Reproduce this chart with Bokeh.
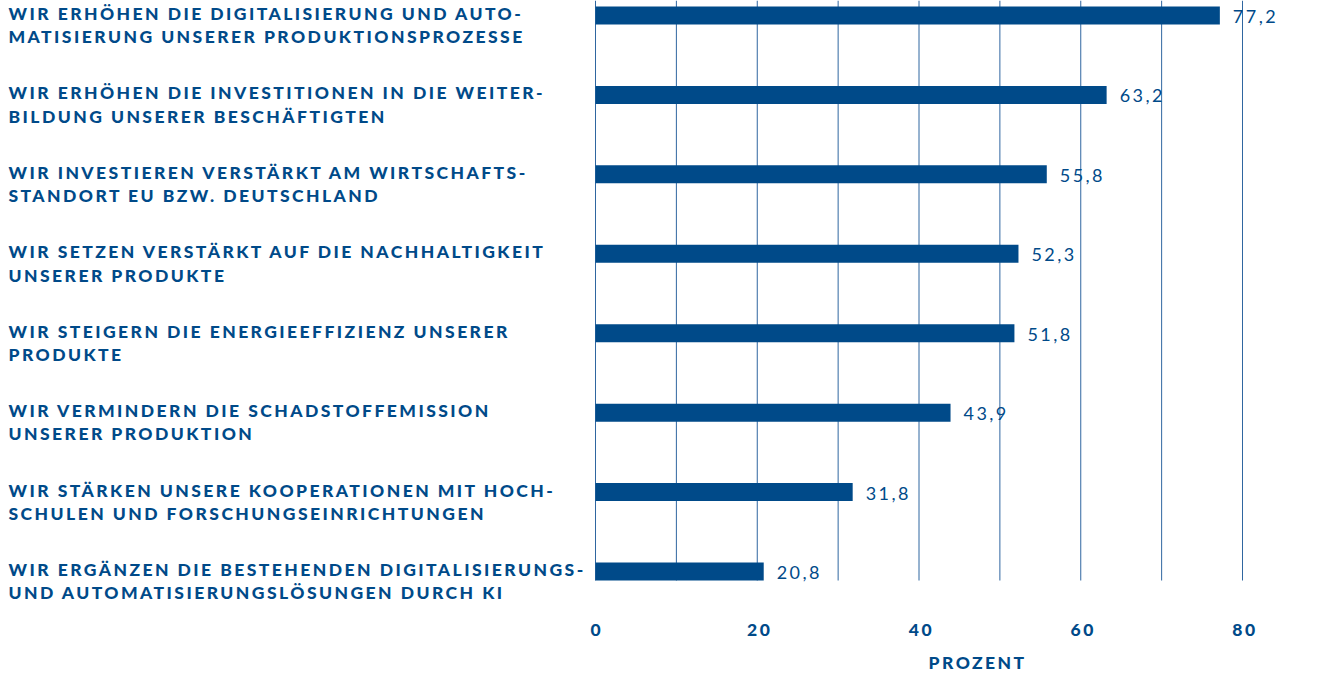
from bokeh.plotting import figure
from bokeh.models import ColumnDataSource, Range1d, InlineStyleSheet
from bokeh.core.properties import value
from bokeh.embed import file_html
from bokeh.resources import INLINE

# ---- data ----
categories = [
    "WIR ERHÖHEN DIE DIGITALISIERUNG UND AUTO-\nMATISIERUNG UNSERER PRODUKTIONSPROZESSE",
    "WIR ERHÖHEN DIE INVESTITIONEN IN DIE WEITER-\nBILDUNG UNSERER BESCHÄFTIGTEN",
    "WIR INVESTIEREN VERSTÄRKT AM WIRTSCHAFTS-\nSTANDORT EU BZW. DEUTSCHLAND",
    "WIR SETZEN VERSTÄRKT AUF DIE NACHHALTIGKEIT\nUNSERER PRODUKTE",
    "WIR STEIGERN DIE ENERGIEEFFIZIENZ UNSERER\nPRODUKTE",
    "WIR VERMINDERN DIE SCHADSTOFFEMISSION\nUNSERER PRODUKTION",
    "WIR STÄRKEN UNSERE KOOPERATIONEN MIT HOCH-\nSCHULEN UND FORSCHUNGSEINRICHTUNGEN",
    "WIR ERGÄNZEN DIE BESTEHENDEN DIGITALISIERUNGS-\nUND AUTOMATISIERUNGSLÖSUNGEN DURCH KI",
]
values = [77.2, 63.2, 55.8, 52.3, 51.8, 43.9, 31.8, 20.8]
tick_values = [0, 20, 40, 60, 80]
grid_values = [0, 10, 20, 30, 40, 50, 60, 70, 80, 90]
axis_title = "PROZENT"

BLUE = "#004a89"
GRID = "#2f66a0"
HEAVY = "Lato Black"
LIGHT = "Lato"

W, H = 1309, 672
PX_PER_UNIT = 8.0875          # horizontal scale (px per percent)
ROW_PX = 79.43                # vertical distance between bars (px)
ZERO_PX = 595                 # left edge -> value 0
FIRST_ROW_PX = 15             # top edge -> first bar centre
GRID_END_PX = 580             # top edge -> end of the vertical grid lines
TICK_LABEL_PX = 629
TITLE_PX = 662

n = len(values)


def y_at(px):
    return (px - FIRST_ROW_PX) / ROW_PX


x_start = -ZERO_PX / PX_PER_UNIT
x_end = (W - ZERO_PX) / PX_PER_UNIT
y_top = y_at(0)
y_bottom = y_at(H)

src = ColumnDataSource(dict(
    y=list(range(n)),
    value=values,
    cat=categories,
    lab=[f"{v:.1f}".replace(".", ",") for v in values],
    x0=[x_start] * n,
))
grid_src = ColumnDataSource(dict(
    x=grid_values,
    y0=[y_top] * len(grid_values),
    y1=[y_at(GRID_END_PX)] * len(grid_values),
))
tick_src = ColumnDataSource(dict(
    x=tick_values,
    y=[y_at(TICK_LABEL_PX)] * len(tick_values),
    t=[str(t) for t in tick_values],
))

p = figure(width=W, height=H, output_backend="svg", toolbar_location=None,
           x_range=Range1d(x_start, x_end), y_range=Range1d(y_bottom, y_top),
           x_axis_location=None, y_axis_location=None,
           min_border_left=0, min_border_right=0, min_border_top=0, min_border_bottom=0,
           outline_line_color=None)
p.grid.visible = False

p.stylesheets = [InlineStyleSheet(css=":host { letter-spacing: 2.45px; }")]

# vertical grid lines
p.segment(x0="x", x1="x", y0="y0", y1="y1", source=grid_src,
          line_color=GRID, line_width=1)

# bars
p.hbar(y="y", left=0, right="value", height=18 / ROW_PX, source=src,
       fill_color=BLUE, line_color=None)

# value labels
p.text(x="value", y="y", text="lab", source=src, x_offset=13, y_offset=1,
       text_font=value(LIGHT), text_font_size="18px", text_color=BLUE,
       text_baseline="middle", text_align="left")

# category labels
p.text(x="x0", y="y", text="cat", source=src, x_offset=8, y_offset=-12.5,
       text_font=value(HEAVY), text_font_size="17.5px",
       text_color=BLUE, text_baseline="top", text_align="left",
       text_line_height=1.11)

# x tick labels
p.text(x="x", y="y", text="t", source=tick_src,
       text_font=value(HEAVY), text_font_size="17.5px", text_color=BLUE,
       text_baseline="middle", text_align="center")

# axis title
p.text(x=[(tick_values[0] + 94.6) / 2], y=[y_at(TITLE_PX)], text=[axis_title],
       x_offset=-9, text_font=value(HEAVY), text_font_size="17.5px", text_color=BLUE,
       text_baseline="middle", text_align="center")

open("out.html", "w").write(file_html(p, INLINE))
